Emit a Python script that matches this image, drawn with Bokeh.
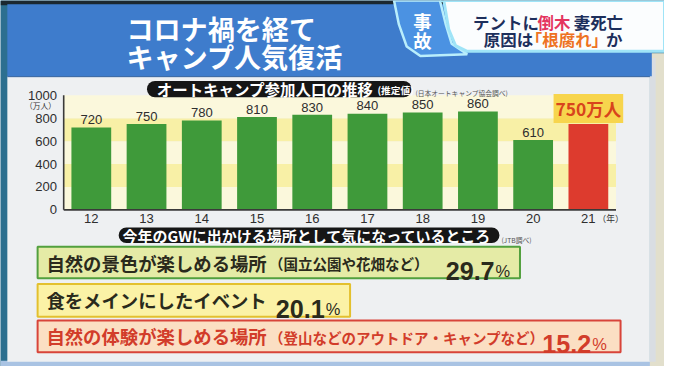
from bokeh.plotting import figure
from bokeh.models import Range1d
from bokeh.core.properties import value
from bokeh.embed import file_html
from bokeh.resources import INLINE

JP = value("Noto Sans CJK JP")
NUM = value("Liberation Sans")

# ---------------- data ----------------
years = [12, 13, 14, 15, 16, 17, 18, 19, 20, 21]
year_labels = ["12", "13", "14", "15", "16", "17", "18", "19", "20", "21"]
campers = [720, 750, 780, 810, 830, 840, 850, 860, 610, 750]   # 万人
y_ticks = [0, 200, 400, 600, 800, 1000]
y_tick_labels = ["0", "200", "400", "600", "800", "1000"]
highlight_year = 21
unit_label = "万人"

places = ["自然の景色が楽しめる場所", "食をメインにしたイベント", "自然の体験が楽しめる場所"]
place_notes = ["（国立公園や花畑など）", "", "（登山などのアウトドア・キャンプなど）"]
shares = [29.7, 20.1, 15.2]

headline = ["コロナ禍を経て", "キャンプ人気復活"]
news_tag = ["事", "故"]
chart_title = "オートキャンプ参加人口の推移"
chart_title_note = "(推定値)"
chart_source = "(日本オートキャンプ協会調べ)"
survey_title = "今年のGWに出かける場所として気になっているところ"
survey_source = "(JTB調べ)"

# ---------------- layout: reference frame of 680x382 mapped onto the canvas ----------------
W, H = 664, 366
RW, RH = 680, 382
FS = (W / RW + H / RH) / 2          # font scale so that texts keep their proportions


def px(s):
    return f"{s * FS:.2f}px"


YEAR0_PX, YEAR_STEP_PX = 93.0, 56.56
BASE_PX, UNIT_PX = 218.5, 119.5 / 1000.0

p = figure(width=W, height=H, x_range=Range1d(0, RW), y_range=Range1d(RH, 0),
           output_backend="svg", toolbar_location=None, min_border=0,
           x_axis_location=None, y_axis_location=None)
p.grid.visible = False
p.outline_line_color = None
p.background_fill_color = "#2c6f8f"
p.border_fill_color = "#2c6f8f"
p.extra_x_ranges = {"yr": Range1d(years[0] + (0 - YEAR0_PX) / YEAR_STEP_PX,
                                  years[0] + (RW - YEAR0_PX) / YEAR_STEP_PX)}
p.extra_y_ranges = {"v": Range1d((BASE_PX - RH) / UNIT_PX, (BASE_PX - 0) / UNIT_PX)}
C = dict(x_range_name="yr", y_range_name="v")

# frame pieces, panel and header
p.quad(left=[0], right=[RW], top=[0], bottom=[5], fill_color="#1b2830", line_color=None)
p.quad(left=[0], right=[RW], top=[376], bottom=[RH], fill_color="#a9c3e3", line_color=None)
p.quad(left=[665], right=[RW], top=[55], bottom=[RH], fill_color="#e2dfcc", line_color=None)
p.quad(left=[665], right=[671], top=[60], bottom=[377], fill_color="#d9dde2", line_color=None)
p.quad(left=[7], right=[665], top=[79], bottom=[377], fill_color="#eef0f2", line_color=None)
p.quad(left=[7], right=[667], top=[4], bottom=[79], fill_color="#3e7ccc", line_color=None)
p.line(x=[7, 665], y=[79.5, 79.5], line_color="#2f5f9e", line_width=1)
# news tag
p.patch(x=[403, 450, 456, 462, 478, 430, 416, 408], y=[0, 0, 25, 45, 56, 58, 48, 25],
        fill_color="#4b92e2", line_color="#b9eefc", line_width=2.5)
# headline box
p.patch(x=[450, 680, 680, 478, 466, 459, 454], y=[0, 0, 53, 53, 47, 30, 0],
        fill_color="#fbfdfe", line_color="#9fe4f7", line_width=3)
for i, ch in enumerate(news_tag):
    p.text(x=[432], y=[21 + 20 * i], text=[ch], text_font=JP, text_font_style="bold",
           text_font_size=px(19), text_color="white", text_align="center", text_baseline="middle")

NAVY, PINK, ORANGE = "#1d2f5c", "#e4345e", "#ee7222"
for x, s, c, yy in [(484, "テントに", NAVY, 22.5), (550, "倒木", PINK, 22.5), (587, "妻死亡", NAVY, 22.5),
                    (495, "原因は", NAVY, 40.5), (538, "「根腐れ」", ORANGE, 40.5), (620, "か", NAVY, 40.5)]:
    p.text(x=[x], y=[yy], text=[s], text_font=JP, text_font_style="bold", text_font_size=px(17),
           text_color=c, text_align="left", text_baseline="middle")

for i, line in enumerate(headline):
    p.text(x=[129], y=[29 + 29 * i], text=[line], text_font=JP, text_font_style="bold",
           text_font_size=px(28), text_color="white", text_align="left", text_baseline="middle")

# ---------------- bar chart ----------------
band_lo = y_ticks[:-1]
band_hi = y_ticks[1:]
band_colors = ["#f8f0a6" if i % 2 else "#fbf8dc" for i in range(len(band_lo))]
p.quad(left=years[0] - 0.5, right=years[-1] + 0.5, bottom=band_lo, top=band_hi,
       fill_color=band_colors, line_color=None, **C)

bar_colors = ["#dd3b2e" if y == highlight_year else "#3f9a3a" for y in years]
p.vbar(x=years, top=campers, bottom=0, width=0.72, fill_color=bar_colors, line_color=None, **C)

p.segment(x0=[years[0] - 0.5, years[0] - 0.5], y0=[0, 0],
          x1=[years[0] - 0.5, years[-1] + 0.5], y1=[y_ticks[-1], 0],
          line_color="#3a3a3a", line_width=1.6, **C)

nx = [y for y in years if y != highlight_year]
nv = [v for y, v in zip(years, campers) if y != highlight_year]
p.text(x=nx, y=nv, text=[str(v) for v in nv], y_offset=-8 * FS, text_font=NUM,
       text_font_size=px(13.5), text_color="#2e2e2e", text_align="center", text_baseline="middle", **C)
hv = [v for y, v in zip(years, campers) if y == highlight_year]
p.text(x=[highlight_year], y=hv, text=[f"{v}{unit_label}" for v in hv], y_offset=-16 * FS,
       text_font=JP, text_font_style="bold", text_font_size=px(18), text_color="#d8441c",
       text_align="center", text_baseline="middle",
       background_fill_color="#f7d54d", padding=2, **C)

p.text(x=[years[0] - 0.5] * len(y_ticks), y=y_ticks, text=y_tick_labels, x_offset=-7 * FS,
       text_font=NUM, text_font_size=px(13.5), text_color="#2e2e2e",
       text_align="right", text_baseline="middle", **C)
p.text(x=[years[0] - 0.5], y=[y_ticks[-1]], text=["（万人）"], x_offset=-8 * FS, y_offset=10 * FS,
       text_font=JP, text_font_size=px(8), text_color="#333333",
       text_align="right", text_baseline="middle", **C)
p.text(x=years, y=[0] * len(years), text=year_labels, y_offset=9 * FS, text_font=NUM,
       text_font_size=px(13.5), text_color="#2e2e2e", text_align="center", text_baseline="middle", **C)
p.text(x=[years[-1]], y=[0], text=["（年）"], x_offset=23 * FS, y_offset=9 * FS, text_font=JP,
       text_font_size=px(9), text_color="#333333", text_align="center", text_baseline="middle", **C)

# chart title pill
p.quad(left=[150], right=[421], top=[84], bottom=[101], fill_color="#161616", line_color=None,
       border_radius=8)
p.text(x=[160], y=[92], text=[chart_title], text_font=JP, text_font_style="bold",
       text_font_size=px(16), text_color="white", text_align="left", text_baseline="middle")
p.text(x=[386], y=[93], text=[chart_title_note], text_font=JP, text_font_style="bold",
       text_font_size=px(10), text_color="white", text_align="left", text_baseline="middle")
p.text(x=[425], y=[97], text=[chart_source], text_font=JP, text_font_size=px(7),
       text_color="#555555", text_align="left", text_baseline="middle")

# ---------------- survey ----------------
p.quad(left=[121], right=[511], top=[237], bottom=[253], fill_color="#161616", line_color=None,
       border_radius=8)
p.text(x=[125], y=[245], text=[survey_title], text_font=JP, text_font_style="bold",
       text_font_size=px(15.5), text_color="white", text_align="left", text_baseline="middle")
p.text(x=[513], y=[250], text=[survey_source], text_font=JP, text_font_size=px(7),
       text_color="#555555", text_align="left", text_baseline="middle")

box_top = [257, 296, 334]
box_bottom = [290, 330, 367]
box_right = [532, 358, 635]
num_right = [506, 332, 605]
box_fill = ["#e5eba6", "#fbf2a6", "#fbdfc3"]
box_line = ["#52a03e", "#e3c02e", "#d8443a"]
txt_color = ["#2a2a1c", "#2a2a1c", "#d23c2a"]
p.quad(left=[38] * 3, right=box_right, top=box_top, bottom=box_bottom,
       fill_color=box_fill, line_color=box_line, line_width=2)
for i in range(3):
    cy = (box_top[i] + box_bottom[i]) / 2
    p.text(x=[47], y=[cy], text=[places[i]], text_font=JP, text_font_style="bold",
           text_font_size=px(19), text_color=txt_color[i], text_align="left", text_baseline="middle")
    if place_notes[i]:
        p.text(x=[275], y=[cy + 1], text=[place_notes[i]], text_font=JP, text_font_style="bold",
               text_font_size=px(15), text_color=txt_color[i], text_align="left", text_baseline="middle")
    p.text(x=[num_right[i]], y=[cy + 8.5], text=[f"{shares[i]:.1f}"], text_font=NUM,
           text_font_style="bold", text_font_size=px(26), text_color=txt_color[i],
           text_align="right", text_baseline="alphabetic")
    p.text(x=[num_right[i] + 1], y=[cy + 8.5], text=["%"], text_font=NUM,
           text_font_size=px(17), text_color=txt_color[i], text_align="left", text_baseline="alphabetic")

open("out.html", "w").write(file_html(p, INLINE))
